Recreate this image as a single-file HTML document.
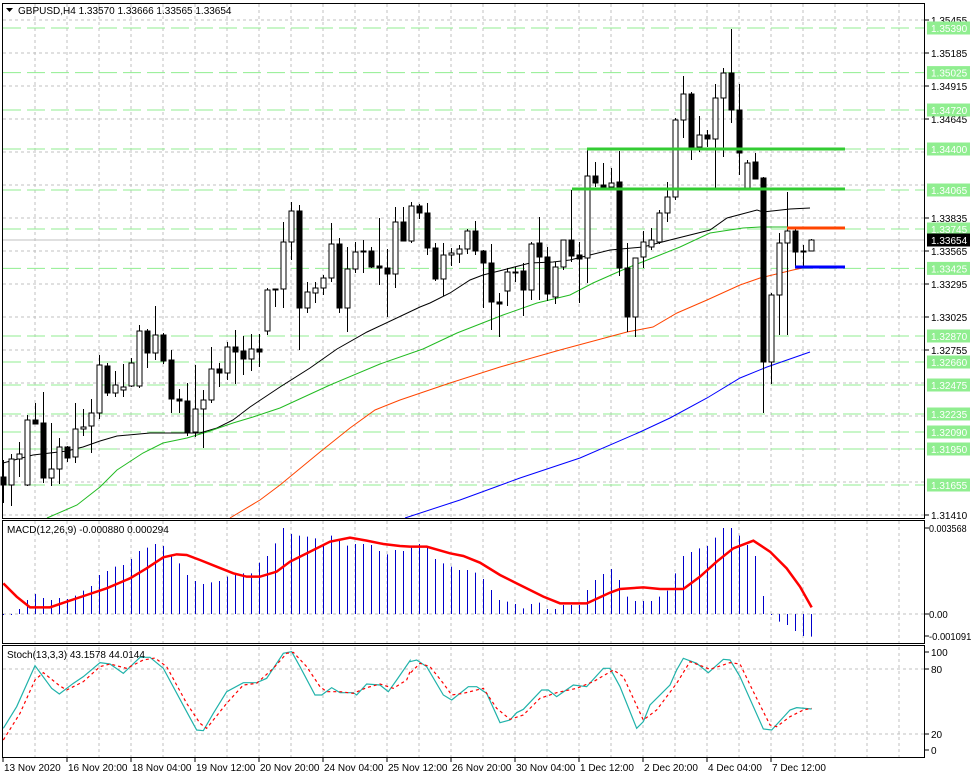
<!DOCTYPE html>
<html><head><meta charset="utf-8"><style>
html,body{margin:0;padding:0;background:#fff;}
svg{display:block;font-family:"Liberation Sans",sans-serif;font-size:10px;}
</style></head><body>
<svg id="c" width="971" height="778" xmlns="http://www.w3.org/2000/svg"></svg>
<script>
var S=document.getElementById('c'),h='';
function L(x1,y1,x2,y2,c,w,d){h+='<line x1="'+x1+'" y1="'+y1+'" x2="'+x2+'" y2="'+y2+'" stroke="'+c+'" stroke-width="'+(w||1)+'"'+(d?' stroke-dasharray="'+d+'"':'')+'/>';}
function T(x,y,t,c,a){h+='<text x="'+x+'" y="'+y+'" fill="'+(c||'#000')+'"'+(a?' text-anchor="'+a+'"':'')+'>'+t+'</text>';}
function P(pts,c,w,d){h+='<polyline fill="none" points="'+pts.map(function(p){return p[0]+','+p[1]}).join(' ')+'" stroke="'+c+'" stroke-width="'+(w||1)+'"'+(d?' stroke-dasharray="'+d+'"':'')+'/>';}
var gx=[];for(var x=35;x<925;x+=32)gx.push(x);
gx.forEach(function(x){L(x,4,x,518,'#c0c0c0',1,'3,3');L(x,521,x,643,'#c0c0c0',1,'3,3');L(x,647,x,757,'#c0c0c0',1,'3,3');});
for(var y=20;y<=515;y+=33)L(3,y,925,y,'#c0c0c0',1,'3,3');
L(3,614,925,614,'#c0c0c0',1,'3,3');L(3,669,925,669,'#c0c0c0',1,'3,3');L(3,734,925,734,'#c0c0c0',1,'3,3');
var lv=[[28,'1.35390'],[72.6,'1.35025'],[110,'1.34720'],[149,'1.34400'],[190,'1.34065'],[229,'1.33745'],[268.4,'1.33425'],[336,'1.32870'],[362,'1.32660'],[385,'1.32475'],[414,'1.32235'],[432,'1.32090'],[449,'1.31950'],[485,'1.31655']];
lv.forEach(function(l){L(3,l[0],925,l[0],'#90ee90',1,'18,6');});
L(3,240,925,240,'#c0c0c0',1);
P([[3,463],[33,455],[67,451],[83,447],[100,441],[117,436],[150,433],[200,433],[217,428],[233,420],[250,407],[280,387],[310,368],[337,349],[367,332],[420,307],[430,303],[450,293],[470,280],[483,275],[503,270],[530,263],[553,262],[570,260],[610,250],[643,247],[670,240],[710,230],[727,218],[757,210],[763,212],[790,209],[810,208]],'#000');
P([[47,518],[77,505],[100,487],[117,470],[143,453],[163,443],[187,438],[207,432],[233,423],[253,417],[280,408],[330,385],[380,364],[423,349],[457,333],[503,315],[537,303],[570,295],[593,283],[627,268],[660,255],[680,247],[710,233],[743,228],[760,227],[810,227]],'#22bb22');
P([[230,518],[260,500],[280,485],[320,452],[350,428],[375,410],[400,400],[450,383],[500,367],[560,350],[627,332],[653,327],[677,313],[707,300],[740,285],[760,278],[793,270],[807,267]],'#ff4500');
P([[405,518],[460,500],[520,478],[580,458],[640,432],[670,418],[707,398],[740,378],[767,367],[810,352]],'#0000ff');
var D=[[477,460,503,485],[485,454,506,459],[459,442,477,454],[485,415,486,420],[420,403,424,424],[423,392,483,478],[478,423,486,469],[469,438,484,447],[447,446,462,458],[457,403,463,429],[429,409,436,427],[426,399,453,413],[413,355,419,365],[366,363,396,393],[393,371,397,385],[390,364,397,387],[386,358,387,363],[386,325,388,331],[331,329,368,353],[353,306,360,335],[335,333,364,361],[360,350,413,399],[399,389,413,401],[401,383,436,432],[432,365,437,409],[409,390,448,400],[400,347,403,369],[369,363,387,373],[373,342,380,347],[347,330,384,352],[351,336,375,359],[359,334,371,349],[349,334,367,352],[331,288,335,290],[289,289,307,290],[289,222,308,242],[242,202,260,211],[211,205,350,308],[308,282,313,292],[293,282,303,288],[288,275,295,278],[278,223,282,244],[244,238,313,308],[308,247,332,269],[269,242,273,252],[251,240,273,252],[251,247,268,267],[266,218,285,268],[268,249,317,274],[274,207,288,222],[222,207,241,241],[241,202,243,206],[206,204,219,213],[213,203,255,248],[248,243,281,279],[279,243,296,255],[255,248,266,253],[254,245,263,249],[249,229,254,231],[231,221,255,251],[251,250,308,263],[263,244,330,302],[302,293,337,304],[291,268,306,272],[273,267,282,272],[271,263,316,290],[290,242,300,244],[243,217,300,257],[257,247,301,294],[297,262,304,267],[267,240,270,240],[240,190,262,256],[255,242,303,259],[258,150,283,176],[176,162,187,183],[185,163,188,187],[187,168,188,183],[182,151,276,268],[268,243,332,317],[317,258,337,258],[257,231,268,242],[247,228,250,240],[242,210,244,213],[213,182,222,197],[197,118,200,120],[120,76,138,94],[94,92,160,147],[147,116,152,135],[135,130,147,139],[139,84,188,98],[98,68,157,73],[73,29,123,110],[110,84,175,153],[188,160,188,163],[162,153,179,179],[178,177,413,362],[362,293,384,295],[295,233,335,243],[243,192,335,231],[231,228,267,252],[251,245,267,252],[251,239,251,240]];
D.forEach(function(d,i){var x=3+8*i;var o=d[0],hi=d[1],lo=d[2],c=d[3];
L(x+0.5,hi,x+0.5,lo,'#000');var t=Math.min(o,c),b=Math.max(o,c);if(b-t<1)b=t+1;
h+='<rect x="'+(x-2)+'" y="'+t+'" width="5" height="'+(b-t)+'" fill="'+(c>o?'#000':'#fff')+'" stroke="#000" stroke-width="1"/>';});
L(587,149,845,149,'#33cc33',3);L(572,189,845,189,'#33cc33',3);L(787,228,845,228,'#ff4500',3);L(795,267,845,267,'#0000ff',3);
var M1=[283,283,267,240,222,234,240,234,237,227,212,198,165,153,140,135,117,93,83,72,78,105,130,165,183,192,187,183,170,163,160,160,128,108,70,24,42,47,50,55,72,47,58,77,72,72,75,93,103,90,93];
var M2=[83,72,83,117,130,140,150,150,158,177,210,240,245,252,265,252,248,267,267,255,255,255,210,180,162,147,180,230,243,243,243,230,212,160,108,96,85,78,53,24,24,47,75,108,228,283,305,315,333,348,350];
var M=M1.concat(M2);
M.forEach(function(z,i){var y=520+z/3;var x=3.5+8*i;L(x,614,x,(Math.abs(y-614)<1?615:y),'#0000cc',1);});
var sg8=[[10,190],[50,230],[90,262],[150,262],[200,245],[260,225],[320,205],[390,175],[440,145],[490,112],[530,103],[560,105],[600,120],[650,140],[700,160],[740,170],[780,170],[830,155],[870,125],[920,100],[990,65],[1050,53],[1100,62],[1150,72],[1200,78],[1230,80]];
var sg9=[[0,80],[50,80],[120,100],[160,108],[210,128],[270,165],[320,190],[400,230],[450,250],[530,250],[600,218],[630,207],[700,202],[750,207],[820,207],[870,170],[920,125],[970,85],[1030,62],[1080,95],[1130,145],[1170,200],[1205,262]];
var sg=sg8.map(function(p){return[p[0]/3,520+p[1]/3]}).concat(sg9.map(function(p){return[410+p[0]/3,520+p[1]/3]}));
P(sg,'#ff0000',2.5);
function cv(a,off){return a.map(function(p){return[off+p[0]/3,520+p[1]/3]});}
var st8=[[10,625],[50,560],[105,437],[155,505],[178,522],[220,490],[250,470],[300,428],[330,432],[370,460],[420,412],[450,412],[490,445],[560,575],[590,630],[610,632],[640,580],[680,515],[730,488],[770,488],[800,475],[830,430],[850,400],[875,395],[900,440],[945,525],[965,525],[995,503],[1020,518],[1060,518],[1070,525],[1100,492],[1140,495],[1165,515],[1190,480],[1230,422]];
var st9=[[0,425],[20,420],[50,440],[100,525],[125,540],[175,500],[200,500],[230,520],[270,608],[300,600],[320,578],[340,568],[395,510],[415,510],[440,530],[490,495],[530,500],[580,445],[600,445],[630,500],[680,625],[700,605],[720,555],[780,495],[800,450],[820,415],[860,430],[895,458],[940,418],[960,420],[990,470],[1060,627],[1085,630],[1140,570],[1160,563],[1205,567]];
var rd8=[[10,660],[60,580],[105,480],[130,458],[180,498],[200,510],[250,485],[300,440],[330,432],[380,445],[430,420],[465,414],[500,440],[560,550],[600,610],[620,625],[680,550],[730,495],[770,490],[820,445],[860,400],[880,397],[920,440],[960,500],[980,515],[1020,515],[1060,520],[1100,503],[1140,492],[1180,505],[1220,480],[1230,455]];
var rd9=[[0,460],[30,430],[60,440],[100,490],[125,525],[160,520],[220,505],[260,565],[300,598],[340,585],[390,535],[440,518],[500,505],[550,485],[610,450],[640,470],[700,600],[740,570],[800,490],[840,425],[880,440],[900,448],[960,428],[990,432],[1030,515],[1080,615],[1100,620],[1140,590],[1180,570],[1205,565]];
P(cv(st8,0).concat(cv(st9,410)),'#20b2aa',1.2);
P(cv(rd8,0).concat(cv(rd9,410)),'#ff0000',1.2,'3,3');
h+='<rect x="2.5" y="3.5" width="922" height="515" fill="none" stroke="#000"/>';
h+='<rect x="2.5" y="520.5" width="922" height="123" fill="none" stroke="#000"/>';
h+='<rect x="2.5" y="645.5" width="922" height="112" fill="none" stroke="#000"/>';
[[20,'1.35455'],[53,'1.35185'],[86,'1.34915'],[119,'1.34645'],[218,'1.33835'],[251,'1.33565'],[284,'1.33295'],[317,'1.33025'],[350,'1.32755'],[515,'1.31410']].forEach(function(p){L(925,p[0],929,p[0],'#000');T(931,p[0]+4,p[1]);});
lv.forEach(function(l){h+='<rect x="927" y="'+(l[0]-6.5)+'" width="43" height="13" fill="#90ee90"/>';T(931,l[0]+4,l[1],'#fff');});
h+='<rect x="927" y="233.5" width="43" height="13" fill="#000"/>';T(931,244,'1.33654','#fff');
[[528,'0.003568'],[614,'0.00'],[636,'-0.001091']].forEach(function(p){L(925,p[0],929,p[0],'#000');h+='<text x="929" y="'+(p[0]+4)+'" textLength="'+(p[1].length*4.7)+'" lengthAdjust="spacingAndGlyphs">'+p[1]+'</text>';});
[[652,'100'],[669,'80'],[734,'20'],[750,'0']].forEach(function(p){L(925,p[0],929,p[0],'#000');T(931,p[0]+4,p[1]);});
var tl=['13 Nov 2020','16 Nov 20:00','18 Nov 04:00','19 Nov 12:00','20 Nov 20:00','24 Nov 04:00','25 Nov 12:00','26 Nov 20:00','30 Nov 04:00','1 Dec 12:00','2 Dec 20:00','4 Dec 04:00','7 Dec 12:00'];
tl.forEach(function(t,k){var x=3+64*k;L(x,758,x,762,'#000');T(x+1,771,t);});
h+='<polygon points="6,8 13,8 9.5,12" fill="#000"/>';
T(18,14,'GBPUSD,H4  1.33570 1.33666 1.33565 1.33654');
T(7,533,'MACD(12,26,9) -0.000880 0.000294');
T(7,658,'Stoch(13,3,3) 43.1578 44.0144');
S.innerHTML=h;
</script>
</body></html>
